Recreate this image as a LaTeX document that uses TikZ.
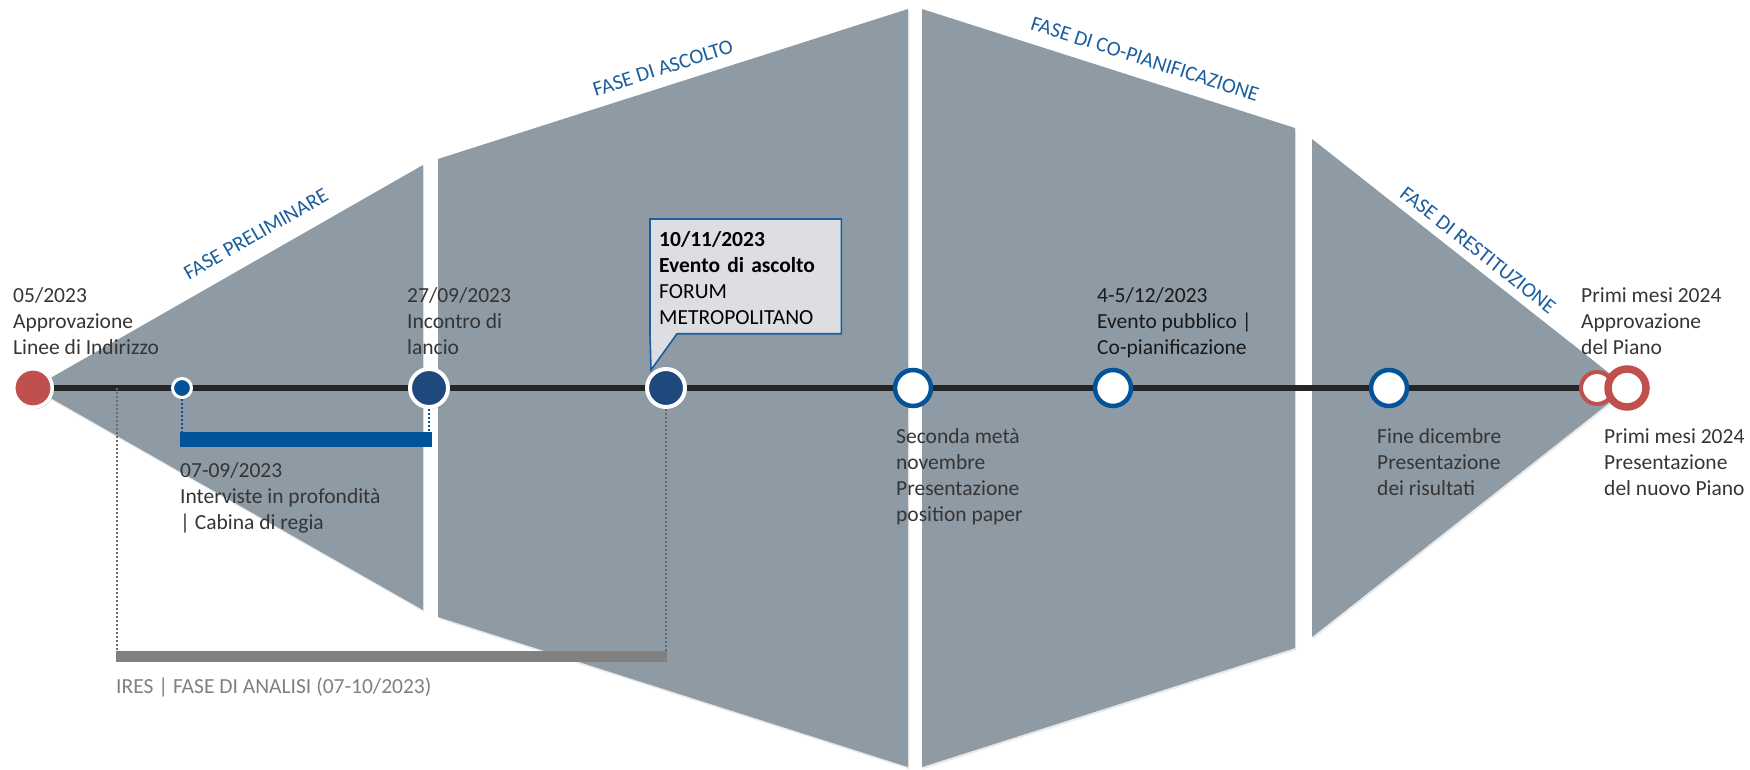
\documentclass[tikz,border=0pt]{standalone}
\usepackage{fontspec}
\setmainfont{Carlito}
\usetikzlibrary{positioning}
\usetikzlibrary{shadows}
\usetikzlibrary{calc}

\definecolor{phasegray}{HTML}{8E9AA4}
\definecolor{phaseblue}{HTML}{1B5E9E}
\definecolor{barblue}{HTML}{03539A}
\definecolor{navy}{HTML}{1F497D}
\definecolor{startred}{HTML}{C0504D}
\definecolor{linegray}{HTML}{262626}
\definecolor{txtgray}{HTML}{353535}
\definecolor{iresgray}{HTML}{808080}
\definecolor{dotgray}{HTML}{6A6A6A}
\definecolor{boxfill}{HTML}{DCDEE2}

\begin{document}
\begin{tikzpicture}[x=1pt,y=-1pt,
  evtext/.style={font=\labfont, text=txtgray, align=left, inner sep=0pt, anchor=base west},
  phasetxt/.style={font=\phasefont, text=phaseblue, inner sep=0pt},
  phase/.style={fill=phasegray, drop shadow={opacity=.18, shadow xshift=1pt, shadow yshift=-2pt}},
  dotshadow/.style={drop shadow={opacity=.3, shadow xshift=1.5pt, shadow yshift=-2pt}},
  navydot/.style={circle, dotshadow, fill=navy, draw=white, line width=4pt, minimum size=38pt, inner sep=0pt},
  whitedot/.style={circle, dotshadow, fill=white, draw=barblue, line width=4.5pt, minimum size=36pt, inner sep=0pt},
  dotline/.style={line width=2pt, dash pattern=on 2pt off 2pt}]

\def\labfont{\fontsize{21.5}{26}\selectfont}
\def\phasefont{\fontsize{21}{24}\selectfont}

\useasboundingbox (0,0) rectangle (1750,770);

% phases
\fill[phase] (33,388) -- (423,165) -- (423,610) -- cycle;
\fill[phase] (438,159) -- (908,9) -- (908,767) -- (438,617) -- cycle;
\fill[phase] (922,9) -- (1295,128) -- (1295,648) -- (922,767) -- cycle;
\fill[phase] (1312,139) -- (1628,388) -- (1312,637) -- cycle;

\node[phasetxt, rotate=29.8] (prelim) at (256,234) {FASE PRELIMINARE};
\node[phasetxt, rotate=17.7] (ascolto) at (663,68) {FASE DI ASCOLTO};
\node[phasetxt, rotate=-17.7] (copian) at (1145,59) {FASE DI CO-PIANIFICAZIONE};
\node[phasetxt, rotate=-38.2] (restit) at (1478,250) {FASE DI RESTITUZIONE};

% timeline
\coordinate (p0) at (33,388);
\coordinate (p1) at (182,388);
\coordinate (p2) at (429,388);
\coordinate (p3) at (666,388);
\coordinate (p4) at (913,388);
\coordinate (p5) at (1113,388);
\coordinate (p6) at (1389,388);
\coordinate (p7) at (1597,388);
\coordinate (p8) at (1627,388);
\coordinate (iresstart) at (117,388);

\draw[linegray, line width=5.5pt] (p0) -- (p7);

\node[circle, dotshadow, fill=startred, draw=white, line width=3.5pt, minimum size=38.5pt, inner sep=0pt] (start) at (p0) {};
\node[circle, dotshadow, fill=barblue, draw=white, line width=3pt, minimum size=19pt, inner sep=0pt] (interv) at (p1) {};
\node[navydot] (lancio) at (p2) {};
\node[navydot] (evento) at (p3) {};
\node[whitedot] (paper) at (p4) {};
\node[whitedot] (pubblico) at (p5) {};
\node[whitedot] (risult) at (p6) {};
\node[circle, dotshadow, fill=white, draw=startred, line width=4pt, minimum size=32pt, inner sep=0pt] (appr) at (p7) {};
\node[circle, dotshadow, fill=white, draw=startred, line width=7.5pt, minimum size=38pt, inner sep=0pt] (nuovo) at (p8) {};

% bars
\node[fill=barblue, minimum width=252pt, minimum height=15pt, inner sep=0pt, anchor=north west] (bar) at (180,432) {};
\draw[dotline, barblue] (interv.south) -- (interv.south |- bar.north);
\draw[dotline, barblue] (lancio.south) -- (lancio.south |- bar.north);

\node[fill=iresgray, minimum width=551pt, minimum height=11pt, inner sep=0pt, anchor=north west] (iresbar) at (116,651) {};
\draw[dotline, dotgray] (iresstart) -- (iresstart |- iresbar.north);
\draw[dotline, dotgray] (evento.south) -- (evento.south |- iresbar.north);

\node[evtext, text=iresgray] (ires) at (116,693) {IRES | FASE DI ANALISI (07-10/2023)};

% labels (base = last line)
\node[evtext] (lab0) at (13,354) {05/2023\\Approvazione\\Linee di Indirizzo};
\node[evtext] (lab2) at (407,354) {27/09/2023\\Incontro di\\lancio};
\node[evtext, text=black!90] (lab5) at (1097,354) {4-5/12/2023\\Evento pubblico |\\Co-pianificazione};
\node[evtext] (lab7) at (1581,354) {Primi mesi 2024\\Approvazione\\del Piano};
\node[evtext] (lab1) at (180,529) {07-09/2023\\Interviste in profondità\\| Cabina di regia};
\node[evtext] (lab4) at (896,521) {Seconda metà\\novembre\\Presentazione\\position paper};
\node[evtext] (lab6) at (1377,495) {Fine dicembre\\Presentazione\\dei risultati};
\node[evtext] (lab8) at (1604,495) {Primi mesi 2024\\Presentazione\\del nuovo Piano};

% callout
\node[font=\labfont, fill=boxfill, text width=173pt, inner xsep=9pt, inner ysep=9pt, align=left, anchor=north west] (forum) at (650,219)
  {\strut\textbf{10/11/2023}\\\textbf{Evento di ascolto}\\FORUM\\METROPOLITANO};
\coordinate (tip) at (651,370);
\fill[boxfill] (forum.south west) -- ($(forum.south west)+(27,0)$) -- (tip) -- cycle;
\draw[phaseblue, line width=1.6pt, line join=miter] (forum.north west) -- (forum.north east) -- (forum.south east)
  -- ($(forum.south west)+(27,0)$) -- (tip) -- (forum.south west) -- cycle;

\end{tikzpicture}
\end{document}
